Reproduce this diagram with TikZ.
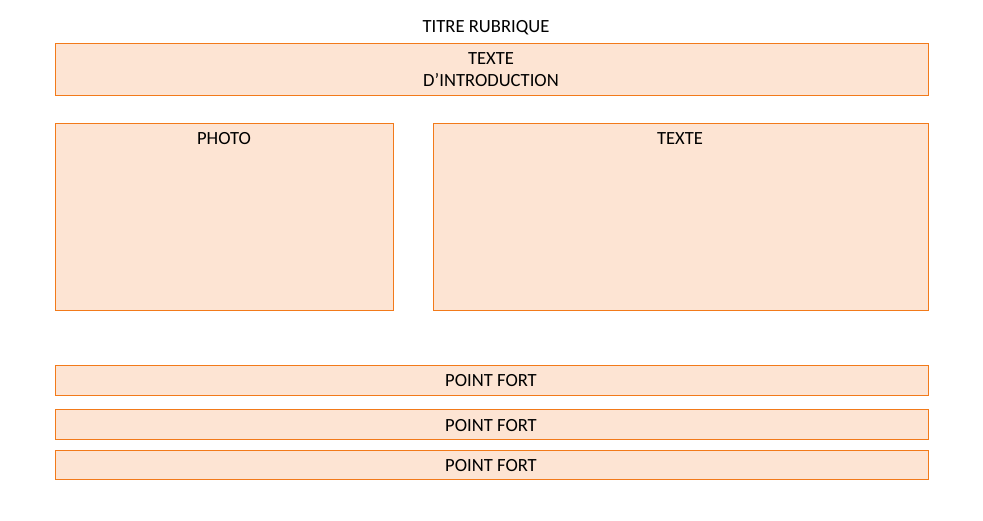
\documentclass[tikz,border=0pt]{standalone}
\usepackage{fontspec}
\setmainfont{Carlito}
\definecolor{boxfill}{HTML}{FDE4D3}
\definecolor{boxline}{HTML}{F27A1A}
\begin{document}
\begin{tikzpicture}[x=1pt,y=-1pt,
  every node/.style={font=\fontsize{18.6}{22}\selectfont, inner sep=0pt},
  blockbox/.style={draw=boxline, fill=boxfill, line width=0.8pt}]
\useasboundingbox (0,0) rectangle (983,520);
% heading
\node (titre) at (486,28) {TITRE RUBRIQUE};
% introduction band
\draw[blockbox] (55.5,43.5) rectangle (928.5,95.5);
\node[align=center] (intro) at (491,70) {TEXTE\\D’INTRODUCTION};
% photo and text areas
\draw[blockbox] (55.5,123.5) rectangle (393.5,310.5);
\node (photo) at (224,139) {PHOTO};
\draw[blockbox] (433.5,123.5) rectangle (928.5,310.5);
\node (texte) at (680,139) {TEXTE};
% highlight bands
\draw[blockbox] (55.5,365.5) rectangle (928.5,395.5);
\node (pf1) at (491,381) {POINT FORT};
\draw[blockbox] (55.5,409.5) rectangle (928.5,439.5);
\node (pf2) at (491,425.5) {POINT FORT};
\draw[blockbox] (55.5,450.5) rectangle (928.5,479.5);
\node (pf3) at (491,466) {POINT FORT};
\end{tikzpicture}
\end{document}
